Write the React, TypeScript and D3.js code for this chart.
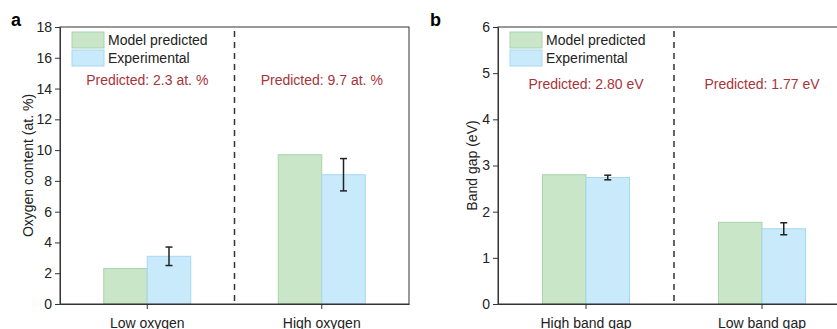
import React, { useEffect, useRef } from 'react';
import * as d3 from 'd3';

// Panel a: oxygen content
const oxygenCategories = ['Low oxygen', 'High oxygen'];
const oxygenPredicted = [2.3, 9.7];
const oxygenExperimental = [3.1, 8.4];
const oxygenError = [0.6, 1.05];
const oxygenNotes = ['Predicted: 2.3 at. %', 'Predicted: 9.7 at. %'];
const oxygenTicks = [0, 2, 4, 6, 8, 10, 12, 14, 16, 18];

// Panel b: band gap
const gapCategories = ['High band gap', 'Low band gap'];
const gapPredicted = [2.8, 1.77];
const gapExperimental = [2.74, 1.63];
const gapError = [0.05, 0.13];
const gapNotes = ['Predicted: 2.80 eV', 'Predicted: 1.77 eV'];
const gapTicks = [0, 1, 2, 3, 4, 5, 6];

const seriesNames = ['Model predicted', 'Experimental'];

const GREEN = '#c9e6c9';
const GREEN_EDGE = '#a9d3ab';
const BLUE = '#c8eafb';
const BLUE_EDGE = '#a6d8ee';
const RED = '#a8343a';
const AXIS = '#333';
const FONT = 'Liberation Sans, Arial, sans-serif';
const FS = 14;

interface PanelOpts {
  letter: string;
  letterX: number;
  left: number;
  right: number;
  yMax: number;
  ticks: number[];
  yLabel: string;
  yLabelX: number;
  categories: string[];
  predicted: number[];
  experimental: number[];
  errors: number[];
  notes: string[];
  noteY: number;
}

const drawPanel = (svg: d3.Selection<SVGSVGElement, unknown, null, undefined>, p: PanelOpts) => {
  const top = 27;
  const bottom = 304;
  const g = svg.append('g');

  const x = d3.scaleBand().domain(p.categories).range([p.left, p.right]);
  const y = d3.scaleLinear().domain([0, p.yMax]).range([bottom, top]);
  const barW = 43.5;

  // bars, error bars, notes
  p.categories.forEach((c, i) => {
    const cx = (x(c) || 0) + x.bandwidth() / 2;
    g.append('rect')
      .attr('x', cx - barW).attr('y', y(p.predicted[i]))
      .attr('width', barW).attr('height', bottom - y(p.predicted[i]))
      .attr('fill', GREEN).attr('stroke', GREEN_EDGE).attr('stroke-width', 1);
    g.append('rect')
      .attr('x', cx).attr('y', y(p.experimental[i]))
      .attr('width', barW).attr('height', bottom - y(p.experimental[i]))
      .attr('fill', BLUE).attr('stroke', BLUE_EDGE).attr('stroke-width', 1);

    const ex = cx + barW / 2;
    const hi = y(p.experimental[i] + p.errors[i]);
    const lo = y(p.experimental[i] - p.errors[i]);
    g.append('line').attr('x1', ex).attr('x2', ex).attr('y1', hi).attr('y2', lo)
      .attr('stroke', '#222').attr('stroke-width', 1.5);
    [hi, lo].forEach(yy => {
      g.append('line').attr('x1', ex - 3.5).attr('x2', ex + 3.5).attr('y1', yy).attr('y2', yy)
        .attr('stroke', '#222').attr('stroke-width', 1.5);
    });

    g.append('text').text(p.notes[i])
      .attr('x', cx).attr('y', p.noteY)
      .attr('text-anchor', 'middle').attr('font-size', FS).attr('fill', RED)
      .attr('font-family', FONT);
  });

  // dashed separator
  const mid = (p.left + p.right) / 2;
  g.append('line').attr('x1', mid).attr('x2', mid).attr('y1', top + 4).attr('y2', bottom)
    .attr('stroke', AXIS).attr('stroke-width', 1.5).attr('stroke-dasharray', '6,5');

  // frame
  g.append('rect').attr('x', p.left).attr('y', top)
    .attr('width', p.right - p.left).attr('height', bottom - top)
    .attr('fill', 'none').attr('stroke', AXIS).attr('stroke-width', 1);

  // y axis
  const ya = g.append('g').attr('transform', `translate(${p.left},0)`)
    .call(d3.axisLeft(y).tickValues(p.ticks).tickFormat(d3.format('d'))
      .tickSize(5).tickPadding(3).tickSizeOuter(0));
  ya.select('.domain').attr('stroke', AXIS);
  ya.selectAll('line').attr('stroke', AXIS);
  ya.selectAll('text').attr('font-size', FS).attr('font-family', FONT).attr('fill', '#222');

  // x axis
  const xa = g.append('g').attr('transform', `translate(0,${bottom})`)
    .call(d3.axisBottom(x).tickSize(5).tickPadding(9).tickSizeOuter(0));
  xa.select('.domain').attr('stroke', AXIS);
  xa.selectAll('line').attr('stroke', AXIS);
  xa.selectAll('text').attr('font-size', FS).attr('font-family', FONT).attr('fill', '#222');

  // y label
  g.append('text').text(p.yLabel)
    .attr('transform', `translate(${p.yLabelX},${(top + bottom) / 2}) rotate(-90)`)
    .attr('text-anchor', 'middle').attr('dominant-baseline', 'central')
    .attr('font-size', FS).attr('font-family', FONT).attr('fill', '#222');

  // panel letter
  g.append('text').text(p.letter)
    .attr('x', p.letterX).attr('y', 26)
    .attr('font-size', 18).attr('font-weight', 'bold').attr('font-family', FONT);

  // legend
  const lx = p.left + 12;
  const swatches = [[GREEN, GREEN_EDGE], [BLUE, BLUE_EDGE]];
  seriesNames.forEach((name, i) => {
    const ly = 32 + i * 18;
    g.append('rect').attr('x', lx).attr('y', ly).attr('width', 32).attr('height', 16)
      .attr('fill', swatches[i][0]).attr('stroke', swatches[i][1]);
    g.append('text').text(name).attr('x', lx + 36).attr('y', ly + 13)
      .attr('font-size', FS).attr('font-family', FONT).attr('fill', '#222');
  });
};

export default function App() {
  const ref = useRef<SVGSVGElement>(null);

  useEffect(() => {
    if (!ref.current) return;
    const svg = d3.select(ref.current);
    svg.selectAll('*').remove();

    drawPanel(svg, {
      letter: 'a', letterX: 11, left: 60, right: 409, yMax: 18, ticks: oxygenTicks,
      yLabel: 'Oxygen content (at. %)', yLabelX: 28,
      categories: oxygenCategories, predicted: oxygenPredicted,
      experimental: oxygenExperimental, errors: oxygenError, notes: oxygenNotes, noteY: 85,
    });
    drawPanel(svg, {
      letter: 'b', letterX: 430, left: 498, right: 850, yMax: 6, ticks: gapTicks,
      yLabel: 'Band gap (eV)', yLabelX: 472,
      categories: gapCategories, predicted: gapPredicted,
      experimental: gapExperimental, errors: gapError, notes: gapNotes, noteY: 89,
    });
  }, []);

  return (
    <svg ref={ref} width={837} height={329}
      style={{ position: 'absolute', left: 0, top: 0, background: '#fff' }} />
  );
}
